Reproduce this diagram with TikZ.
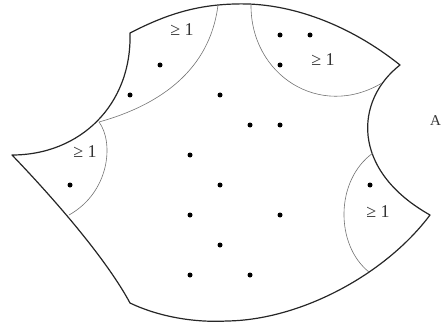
\documentclass[tikz,border=0pt]{standalone}
\usepackage{fontspec}
\setmainfont{Liberation Serif}
\begin{document}
\begin{tikzpicture}[x=1pt,y=-1pt,
  outline/.style={line width=1.2pt, black!85, line join=round},
  innerarc/.style={line width=0.6pt, black!55},
  dot/.style={circle, fill=black, inner sep=0pt, minimum size=5pt},
  lbl/.style={font=\fontsize{18}{21}\selectfont, text=black!80, inner sep=0pt}]
\useasboundingbox (0,0) rectangle (441,326);
% outline corners
\coordinate (L) at (12,155);
\coordinate (TL) at (130,33);
\coordinate (T) at (235,4);
\coordinate (TR) at (400,65);
\coordinate (R) at (430,215);
\coordinate (B) at (227,321);
\coordinate (BL) at (130,303);
\draw[outline] (L) .. controls (80,155) and (132,105) .. (TL)
  .. controls (165,15) and (195,5) .. (T)
  .. controls (290,2) and (350,25) .. (TR)
  .. controls (355,100) and (350,170) .. (R)
  .. controls (385,275) and (300,320) .. (B)
  .. controls (190,323) and (155,315) .. (BL)
  .. controls (108,262) and (60,205) .. (L) -- cycle;
% inner arcs
\coordinate (a1) at (218,5);
\coordinate (a2) at (99,122);
\coordinate (b1) at (251,4);
\coordinate (b2) at (382,83);
\coordinate (c2) at (69,215);
\coordinate (d1) at (373,153);
\coordinate (d2) at (369,272);
\draw[innerarc] (a1) .. controls (210,70) and (160,105) .. (a2);
\draw[innerarc] (b1) .. controls (250,75) and (320,120) .. (b2);
\draw[innerarc] (a2) .. controls (114,142) and (110,192) .. (c2);
\draw[innerarc] (d1) .. controls (335,180) and (335,245) .. (d2);
% dots
\foreach \n/\x/\y in {p1/160/65, p2/130/95, p3/280/35, p4/310/35, p5/280/65,
  p6/220/95, p7/250/125, p8/280/125, p9/190/155, p10/220/185, p11/190/215,
  p12/280/215, p13/220/245, p14/190/275, p15/250/275, p16/70/185, p17/370/185}
  \node[dot] (\n) at (\x,\y) {};
% labels
\node[lbl] (l1) at (182,30) {≥ 1};
\node[lbl] (l2) at (323,60) {≥ 1};
\node[lbl] (l3) at (85,152) {≥ 1};
\node[lbl] (l4) at (378,212) {≥ 1};
\node[font=\fontsize{15}{18}\selectfont, text=black!80, inner sep=0pt, anchor=west] (A) at (430,121) {A};
\end{tikzpicture}
\end{document}
